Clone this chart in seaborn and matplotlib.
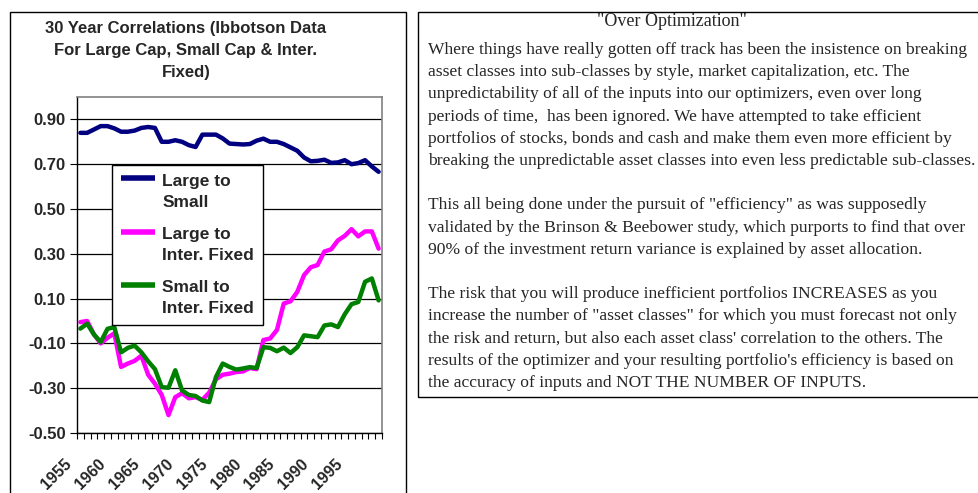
import matplotlib
matplotlib.use("Agg")
import matplotlib.pyplot as plt
import matplotlib.transforms as mtransforms
from matplotlib.legend_handler import HandlerLine2D
from matplotlib.lines import Line2D
from matplotlib.patches import Rectangle
import pandas as pd
import seaborn as sns

# 30 year rolling correlations, one value per year (1955-1999)
years = list(range(1955, 2000))
large_to_small = [
    0.84, 0.84, 0.855, 0.87, 0.87, 0.86, 0.845, 0.845, 0.85, 0.862,
    0.866, 0.862, 0.80, 0.80, 0.807, 0.80, 0.785, 0.777, 0.832, 0.832,
    0.832, 0.815, 0.792, 0.79, 0.788, 0.79, 0.805, 0.814, 0.80, 0.80,
    0.79, 0.775, 0.76, 0.73, 0.713, 0.715, 0.72, 0.706, 0.708, 0.718,
    0.70, 0.705, 0.718, 0.69, 0.666,
]
large_to_inter = [
    -0.005, 0.0, -0.06, -0.10, -0.075, -0.055, -0.205, -0.19, -0.178, -0.155,
    -0.24, -0.28, -0.33, -0.42, -0.34, -0.322, -0.345, -0.34, -0.352, -0.32,
    -0.26, -0.24, -0.235, -0.228, -0.225, -0.21, -0.215, -0.085, -0.078, -0.04,
    0.078, 0.088, 0.13, 0.205, 0.24, 0.25, 0.31, 0.32, 0.36, 0.38,
    0.41, 0.378, 0.40, 0.40, 0.323,
]
small_to_inter = [
    -0.034, -0.012, -0.06, -0.094, -0.035, -0.027, -0.14, -0.12, -0.11, -0.14,
    -0.18, -0.215, -0.295, -0.298, -0.22, -0.31, -0.33, -0.335, -0.355, -0.362,
    -0.25, -0.19, -0.205, -0.217, -0.212, -0.206, -0.21, -0.117, -0.12, -0.135,
    -0.119, -0.143, -0.117, -0.064, -0.068, -0.072, -0.02, -0.015, -0.027, 0.03,
    0.075, 0.085, 0.175, 0.19, 0.092,
]
series_names = ["Large to\nSmall", "Large to\nInter. Fixed", "Small to\nInter. Fixed"]
series_colors = ["#000080", "#FF00FF", "#008000"]
y_ticks = [-0.5, -0.3, -0.1, 0.1, 0.3, 0.5, 0.7, 0.9]
label_years = [1955, 1960, 1965, 1970, 1975, 1980, 1985, 1990, 1995]

chart_title = [
    "30 Year Correlations (Ibbotson Data",
    "For Large Cap, Small Cap & Inter.",
    "Fixed)",
]
essay_title = '"Over Optimization"'
essay_lines = [
    "Where things have really gotten off track has been the insistence on breaking",
    "asset classes into sub-classes by style, market capitalization, etc. The",
    "unpredictability of all of the inputs into our optimizers, even over long",
    "periods of time,  has been ignored. We have attempted to take efficient",
    "portfolios of stocks, bonds and cash and make them even more efficient by",
    "breaking the unpredictable asset classes into even less predictable sub-classes.",
    "",
    'This all being done under the pursuit of "efficiency" as was supposedly',
    "validated by the Brinson & Beebower study, which purports to find that over",
    "90% of the investment return variance is explained by asset allocation.",
    "",
    "The risk that you will produce inefficient portfolios INCREASES as you",
    'increase the number of "asset classes" for which you must forecast not only',
    "the risk and return, but also each asset class' correlation to the others. The",
    "results of the optimizer and your resulting portfolio's efficiency is based on",
    "the accuracy of inputs and NOT THE NUMBER OF INPUTS.",
]

df = pd.DataFrame({
    "year": years * 3,
    "corr": large_to_small + large_to_inter + small_to_inter,
    "series": [series_names[0]] * len(years) + [series_names[1]] * len(years)
              + [series_names[2]] * len(years),
})

sns.set_theme(style="white")
plt.rcParams["font.family"] = ["Liberation Sans", "DejaVu Sans"]

W, H = 979, 493
fig = plt.figure(figsize=(W / 100, H / 100), dpi=100)
fig.patch.set_facecolor("white")


def px_box(x0, y0, x1, y1):
    return [x0 / W, 1 - y1 / H, (x1 - x0) / W, (y1 - y0) / H]


ax = fig.add_axes(px_box(77, 97, 382, 433))

sns.lineplot(data=df, x="year", y="corr", hue="series", hue_order=series_names,
             palette=series_colors, linewidth=3.2, legend=False, ax=ax)
for line in ax.get_lines():
    line.set_solid_joinstyle("round")

ax.set_xlim(years[0] - 0.5, years[-1] + 0.5)
ax.set_ylim(-0.5, 1.0)
ax.set_yticks(y_ticks)
ax.set_yticklabels([f"{v:.2f}" for v in y_ticks])
ax.yaxis.grid(True, color="black", linewidth=0.9)
ax.set_axisbelow(True)
ax.set_xlabel("")
ax.set_ylabel("")

ax.set_xticks(label_years)
ax.set_xticklabels([str(y) for y in label_years], rotation=45, ha="right",
                   fontweight="bold", fontsize=11.5)
ax.set_xticks([y - 0.5 for y in years + [years[-1] + 1]], minor=True)
ax.tick_params(axis="x", which="major", length=0, pad=17)
ax.tick_params(axis="x", which="minor", length=4, width=0.8, color="black",
               direction="out", bottom=True)
ax.tick_params(axis="y", which="major", length=5, width=0.8, color="black",
               direction="out", left=True, pad=3, labelsize=12)
for lab in ax.get_yticklabels():
    lab.set_fontweight("bold")
shift = mtransforms.ScaledTranslation(-6 / 100, 0, fig.dpi_scale_trans)
for lab in ax.get_xticklabels():
    lab.set_transform(lab.get_transform() + shift)

for side in ["left", "bottom"]:
    ax.spines[side].set_color("black")
    ax.spines[side].set_linewidth(1.0)
for side in ["top", "right"]:
    ax.spines[side].set_color("#808080")
    ax.spines[side].set_linewidth(1.2)


class TopLineHandler(HandlerLine2D):
    # put the legend key next to the first line of a two-line label
    def create_artists(self, legend, orig_handle, xdescent, ydescent, width,
                       height, fontsize, trans):
        artists = super().create_artists(legend, orig_handle, xdescent, ydescent,
                                         width, height, fontsize, trans)
        for a in artists:
            a.set_ydata([v + 0.75 * fontsize for v in a.get_ydata()])
        return artists


handles = [Line2D([], [], color=c, linewidth=4, solid_capstyle="butt")
           for c in series_colors]
leg = ax.legend(handles, series_names, loc="upper left",
                bbox_to_anchor=(0.115, 0.798), borderaxespad=0, frameon=True,
                fancybox=False, edgecolor="black", framealpha=1, borderpad=0.5,
                handlelength=2.0, handletextpad=0.4, labelspacing=1.0,
                prop={"weight": "bold", "size": 12.5},
                handler_map={Line2D: TopLineHandler()})
leg.get_frame().set_linewidth(1.0)
for t in leg.get_texts():
    t.set_linespacing(1.5)

# chart title
for i, line in enumerate(chart_title):
    fig.text(186 / W, 1 - (28 + 22 * i) / H, line, ha="center", va="center",
             fontsize=12, fontweight="bold")

# panel borders
fig.patches.append(Rectangle((10 / W, -0.05), 396 / W, 1 - 12 / H + 0.05,
                             transform=fig.transFigure, fill=False,
                             edgecolor="black", linewidth=1.0))
fig.patches.append(Rectangle((418 / W, 1 - 397 / H), 600 / W, 385 / H,
                             transform=fig.transFigure, fill=False,
                             edgecolor="black", linewidth=1.0))

# essay text
serif = ["Liberation Serif", "DejaVu Serif"]
fig.text(672 / W, 1 - 21 / H, essay_title, ha="center", va="center",
         fontsize=13, family=serif)
for i, line in enumerate(essay_lines):
    if line:
        fig.text(428 / W, 1 - (50 + 22.2 * i) / H, line, ha="left",
                 va="center", fontsize=12.6, family=serif)

fig.savefig("out.png", dpi=100)
